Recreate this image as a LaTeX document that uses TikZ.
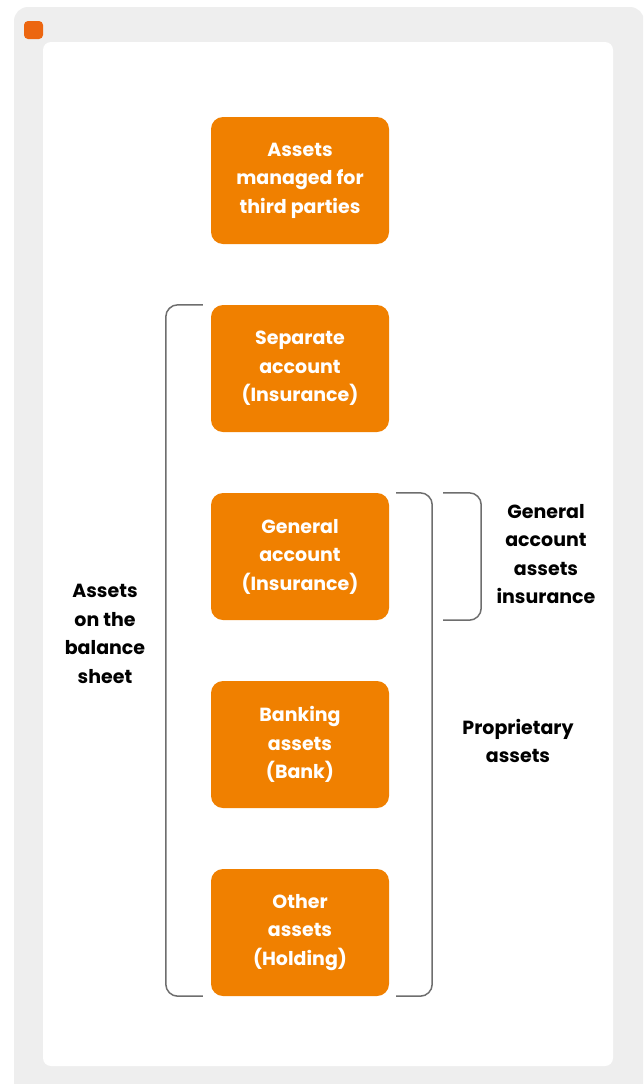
\documentclass[tikz,border=0pt]{standalone}
\usepackage{fontspec}
\setmainfont{Poppins}
\definecolor{ingorange}{HTML}{F08000}
\definecolor{markorange}{HTML}{EC6610}
\definecolor{panelgrey}{HTML}{EEEEEE}
\definecolor{bracketgrey}{HTML}{6E6E6E}
\begin{document}
\begin{tikzpicture}[x=1pt, y=-1pt,
    assetbox/.style={fill=ingorange, rounded corners=12pt, minimum width=178pt,
      minimum height=127pt, inner sep=0pt, text=white, align=center,
      font=\bfseries\fontsize{19}{28.5}\selectfont},
    sidetext/.style={align=center, inner sep=0pt, font=\bfseries\fontsize{19}{28.5}\selectfont},
    bracket/.style={draw=bracketgrey, line width=1.5pt, rounded corners=12pt}]
  \useasboundingbox (0,0) rectangle (643,1084);
  \clip (0,0) rectangle (643,1084);

  % panels
  \fill [panelgrey, rounded corners=14pt] (14,7) rectangle (644,1110);
  \fill [white, rounded corners=8pt] (43,42) rectangle (613,1066);
  \fill [markorange, rounded corners=4pt] (24,21) rectangle (43,39);

  % asset boxes
  \node [assetbox] (third) at (300,180.5) {Assets\\managed for\\third parties};
  \node [assetbox] (separate) at (300,368.5) {Separate\\account\\(Insurance)};
  \node [assetbox] (general) at (300,556.5) {General\\account\\(Insurance)};
  \node [assetbox] (banking) at (300,744.5) {Banking\\assets\\(Bank)};
  \node [assetbox] (other) at (300,932.5) {Other\\assets\\(Holding)};

  % brackets
  \draw [bracket] ([xshift=-8pt]separate.north west) -- ++(-37,0) |- ([xshift=-8pt]other.south west);
  \draw [bracket] ([xshift=7pt]general.north east) -- ++(36,0) |- ([xshift=7pt]other.south east);
  \draw [bracket] ([xshift=54pt]general.north east) -- ++(38,0) |- ([xshift=54pt]general.south east);

  % labels
  \node [sidetext] (balance) at (105,634) {Assets\\on the\\balance\\sheet};
  \node [sidetext] (proprietary) at (518,741) {Proprietary\\assets};
  \node [sidetext] (insurance) at (546,554) {General\\account\\assets\\insurance};
\end{tikzpicture}
\end{document}
